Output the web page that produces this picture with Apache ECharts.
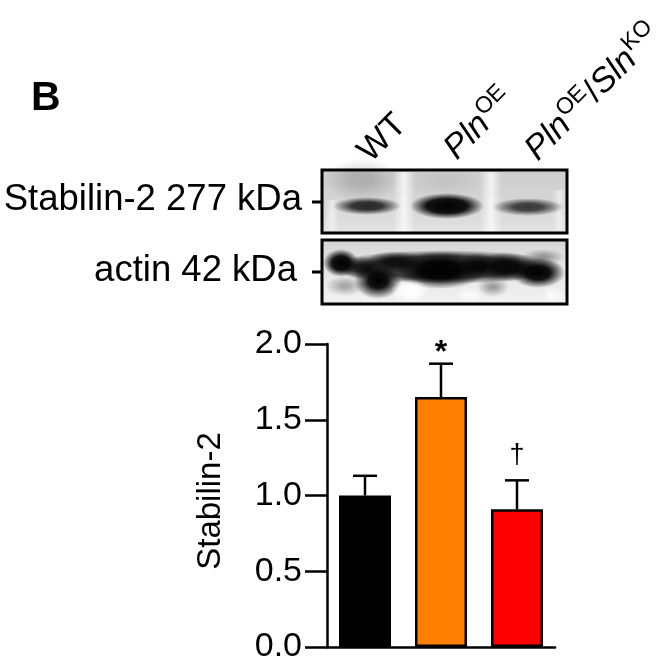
<!DOCTYPE html>
<html><head><meta charset="utf-8">
<script src="https://cdn.jsdelivr.net/npm/echarts@6.0.0/dist/echarts.min.js"></script>
<style>html,body{margin:0;padding:0;background:#fff}#c{width:662px;height:664px}</style>
</head><body><div id="c"></div>
<script>
// ---- data ----
const categories = ['WT', 'PlnOE', 'PlnOE/SlnKO'];
const meanValues = [1.00, 1.65, 0.91];
const upperValues = [1.13, 1.87, 1.10];   // mean + SEM
const sigMarks = ['', '*', '\u2020'];
const yTickMin = 0, yTickMax = 2.0, yTickStep = 0.5;
const stabilinBand = [0.82, 1.0, 0.74];   // relative band darkness
const laneLabels = ['{n|WT}', '{i|Pln}{s|OE}', '{i|Pln}{s|OE}{n|/}{i|Sln}{s|KO}'];

// ---- style ----
const FONT = '"Liberation Sans", Arial, Helvetica, sans-serif';
const barColors = ['#000000', '#FF8000', '#FF0000'];
const laneX = [367, 447, 528];
const laneAnchors = [[376, 169], [462, 166], [543, 167]];

function rgba(a, c) { c = c || '0,0,0'; return 'rgba(' + c + ',' + a + ')'; }
function blob(cx, cy, rx, ry, a, hard, c) {
  return { type: 'circle', x: cx, y: cy, scaleX: rx / 50, scaleY: ry / 50, shape: { cx: 0, cy: 0, r: 50 },
    style: { fill: new echarts.graphic.RadialGradient(0.5, 0.5, 0.5, [
      { offset: 0, color: rgba(a, c) }, { offset: hard, color: rgba(a * 0.92, c) }, { offset: 1, color: rgba(0, c) }]) } };
}
function vstreak(x, y, w, h, a) {
  return { type: 'rect', shape: { x: x, y: y, width: w, height: h },
    style: { fill: new echarts.graphic.LinearGradient(0, 0, 1, 0, [
      { offset: 0, color: 'rgba(255,255,255,0)' }, { offset: 0.5, color: 'rgba(255,255,255,' + a + ')' }, { offset: 1, color: 'rgba(255,255,255,0)' }]) } };
}
function lg(stops) { return new echarts.graphic.LinearGradient(0, 0, 0, 1, stops); }

const chart = echarts.init(document.getElementById('c'), null, { renderer: 'canvas' });

const g = [];
// panel letter
g.push({ type: 'text', x: 31, y: 99, style: { text: 'B', font: 'bold 41px ' + FONT, fill: '#000', textAlign: 'left', align: 'left', textVerticalAlign: 'middle', verticalAlign: 'middle' } });
// left blot labels
g.push({ type: 'text', x: 302, y: 200, style: { text: 'Stabilin-2 277 kDa', font: '36.5px ' + FONT, fill: '#000', textAlign: 'right', align: 'right', textVerticalAlign: 'middle', verticalAlign: 'middle' } });
g.push({ type: 'text', x: 297, y: 271, style: { text: 'actin 42 kDa', font: '36.5px ' + FONT, fill: '#000', textAlign: 'right', align: 'right', textVerticalAlign: 'middle', verticalAlign: 'middle' } });
g.push({ type: 'line', shape: { x1: 312, y1: 202, x2: 323, y2: 202 }, style: { stroke: '#000', lineWidth: 3 } });
g.push({ type: 'line', shape: { x1: 312, y1: 272, x2: 323, y2: 272 }, style: { stroke: '#000', lineWidth: 3 } });

// ---- Stabilin-2 blot ----
g.push({ type: 'rect', shape: { x: 322, y: 170, width: 245, height: 63 }, style: { fill: lg([{ offset: 0, color: '#cdcdcd' }, { offset: 0.55, color: '#d6d6d6' }, { offset: 1, color: '#e2e2e2' }]) } });
g.push(blob(362, 180, 38, 22, 0.16, 0.3));
g.push(blob(445, 182, 40, 16, 0.06, 0.3));
g.push(vstreak(393, 172, 22, 60, 0.75));
g.push(vstreak(480, 172, 22, 60, 0.75));
g.push(vstreak(325, 200, 14, 30, 0.5));
g.push(vstreak(552, 190, 14, 40, 0.5));
const bandRx = [34, 37, 36], bandRy = [9, 13, 9], bandCy = [206, 206, 207], bandHard = [0.45, 0.55, 0.4];
stabilinBand.forEach(function (v, i) {
  g.push(blob(laneX[i], bandCy[i], bandRx[i], bandRy[i], v, bandHard[i]));
});

// ---- actin blot ----
g.push({ type: 'rect', shape: { x: 322, y: 240, width: 245, height: 64 }, style: { fill: lg([{ offset: 0, color: '#d2d2d2' }, { offset: 0.2, color: '#dedede' }, { offset: 0.75, color: '#ececec' }, { offset: 1, color: '#f2f2f2' }]) } });
g.push(blob(445, 267, 118, 17, 0.75, 0.65));
const actinBlobs = [
  [341, 263, 18, 14, 1, 0.5], [362, 268, 20, 12, 0.8, 0.35], [378, 281, 24, 18, 1, 0.4],
  [395, 262, 30, 11, 0.8, 0.35], [440, 270, 46, 19, 1, 0.45], [478, 266, 20, 13, 0.85, 0.35],
  [506, 267, 32, 15, 0.9, 0.4], [538, 273, 27, 15, 1, 0.45], [543, 257, 22, 8, 0.35, 0.2],
  [493, 287, 16, 10, 0.35, 0.2], [345, 286, 20, 10, 0.3, 0.2]
];
actinBlobs.forEach(function (b) { g.push(blob(b[0], b[1], b[2], b[3], b[4], b[5])); });
g.push(blob(410, 291, 19, 12, 0.95, 0.45, '255,255,255'));
g.push(blob(470, 295, 14, 8, 0.7, 0.3, '255,255,255'));
g.push(blob(553, 295, 12, 8, 0.7, 0.3, '255,255,255'));
// blot frames
g.push({ type: 'rect', shape: { x: 322, y: 170, width: 245, height: 63 }, style: { fill: 'none', stroke: '#000', lineWidth: 3 } });
g.push({ type: 'rect', shape: { x: 322, y: 240, width: 245, height: 64 }, style: { fill: 'none', stroke: '#000', lineWidth: 3 } });

// lane labels (rotated)
const rich = {
  n: { fontSize: 34, fontFamily: FONT, fill: '#000', color: '#000', verticalAlign: 'bottom' },
  i: { fontSize: 34, fontFamily: FONT, fontStyle: 'italic', fill: '#000', color: '#000', verticalAlign: 'bottom' },
  s: { fontSize: 23, fontFamily: FONT, fill: '#000', color: '#000', verticalAlign: 'bottom', padding: [0, 0, 15, 1] }
};
laneLabels.forEach(function (t, i) {
  g.push({ type: 'text', x: laneAnchors[i][0], y: laneAnchors[i][1], rotation: Math.PI / 4,
    style: { text: t, rich: rich, x: 0, y: 0, fill: '#000', font: '34px ' + FONT, textAlign: 'left', align: 'left', textVerticalAlign: 'bottom', verticalAlign: 'bottom' } });
});

// y axis title
g.push({ type: 'text', x: 211, y: 501, rotation: Math.PI / 2,
  style: { text: 'Stabilin-2', font: '33px ' + FONT, fill: '#000', textAlign: 'center', align: 'center', textVerticalAlign: 'middle', verticalAlign: 'middle' } });

const option = {
  backgroundColor: '#ffffff',
  animation: false,
  grid: { left: 327, right: 107, top: 344, bottom: 14, containLabel: false },
  xAxis: {
    type: 'category', data: categories,
    axisLine: { show: true, lineStyle: { color: '#000', width: 2.5 } },
    axisTick: { show: false }, axisLabel: { show: false }, splitLine: { show: false }
  },
  yAxis: {
    type: 'value', min: yTickMin, max: yTickMax, interval: yTickStep,
    axisLine: { show: true, lineStyle: { color: '#000', width: 2.5 } },
    axisTick: { show: true, length: 22, lineStyle: { color: '#000', width: 2.5 } },
    axisLabel: { formatter: function (v) { return v.toFixed(1); }, fontSize: 34, color: '#000', fontFamily: FONT, margin: 25 },
    splitLine: { show: false }
  },
  graphic: { elements: g },
  series: [
    {
      type: 'bar', barWidth: 52,
      data: meanValues.map(function (v, i) { return { value: v, itemStyle: { color: barColors[i] } }; }),
      itemStyle: { borderColor: '#000', borderWidth: 2.5 }, z: 2
    },
    {
      type: 'custom', z: 3,
      data: meanValues.map(function (v, i) { return [i, v, upperValues[i]]; }),
      encode: { x: 0, y: [1, 2] },
      renderItem: function (params, api) {
        const i = api.value(0);
        const top = api.coord([i, api.value(2)]);
        const base = api.coord([i, api.value(1)]);
        const hw = 12;
        const children = [
          { type: 'line', shape: { x1: top[0], y1: base[1], x2: top[0], y2: top[1] }, style: { stroke: '#000', lineWidth: 2.5 } },
          { type: 'line', shape: { x1: top[0] - hw, y1: top[1], x2: top[0] + hw, y2: top[1] }, style: { stroke: '#000', lineWidth: 2.5 } }
        ];
        const m = sigMarks[i];
        if (m) {
          const isStar = m === '*';
          children.push({ type: 'text', x: top[0], y: top[1] - (isStar ? 11 : 25),
            style: { text: m, font: (isStar ? 'bold 32px ' : '27px ') + FONT, fill: '#000', textAlign: 'center', align: 'center', textVerticalAlign: 'middle', verticalAlign: 'middle' } });
        }
        return { type: 'group', children: children };
      }
    }
  ]
};
chart.setOption(option);
</script>
</body></html>
